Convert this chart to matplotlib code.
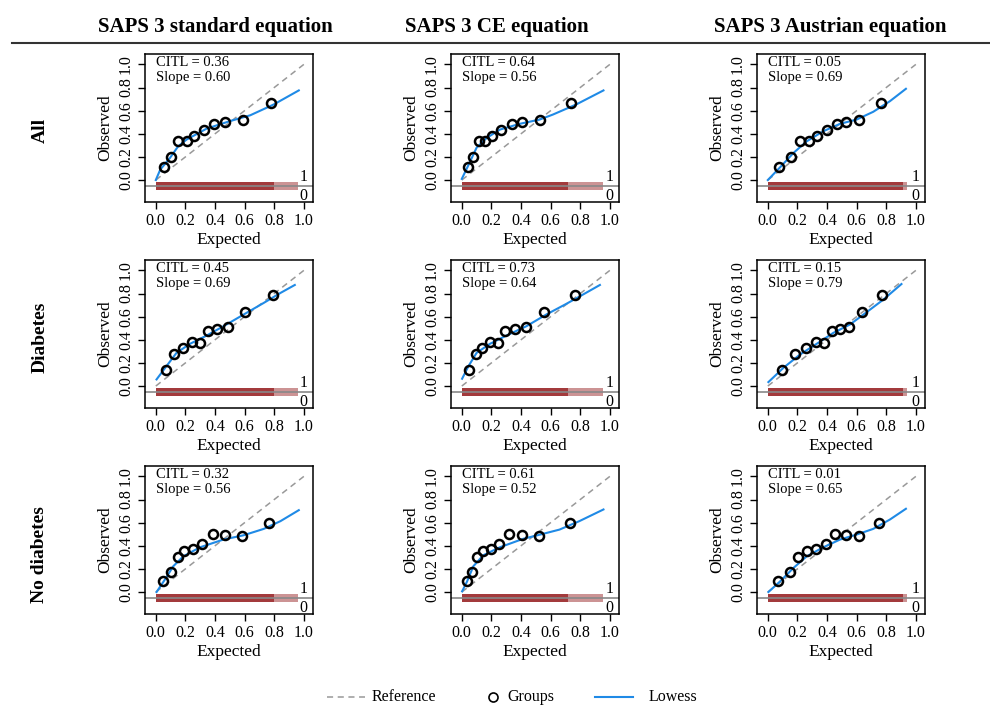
import matplotlib
matplotlib.use('Agg')
from matplotlib import pyplot as plt
from matplotlib.lines import Line2D

plt.rcParams['font.family'] = ['Liberation Serif', 'DejaVu Serif']

equations = ['SAPS 3 standard equation', 'SAPS 3 CE equation', 'SAPS 3 Austrian equation']
subgroups = ['All', 'Diabetes', 'No diabetes']

# observed proportion per risk group (same groups for every equation)
obs_all = [0.11, 0.197, 0.335, 0.338, 0.379, 0.436, 0.488, 0.50, 0.517, 0.668]
obs_diab = [0.138, 0.279, 0.33, 0.379, 0.374, 0.474, 0.494, 0.511, 0.638, 0.787]
obs_nodiab = [0.092, 0.173, 0.30, 0.353, 0.376, 0.416, 0.503, 0.491, 0.488, 0.598]

# expected (mean predicted) per group
exp_all_std = [0.054, 0.106, 0.152, 0.208, 0.258, 0.328, 0.396, 0.468, 0.586, 0.776]
exp_all_ce = [0.040, 0.078, 0.116, 0.157, 0.206, 0.268, 0.340, 0.409, 0.526, 0.740]
exp_all_aus = [0.076, 0.157, 0.218, 0.281, 0.335, 0.402, 0.467, 0.528, 0.618, 0.764]
exp_diab_std = [0.068, 0.124, 0.181, 0.242, 0.299, 0.351, 0.412, 0.486, 0.600, 0.790]
exp_diab_ce = [0.049, 0.094, 0.134, 0.190, 0.242, 0.295, 0.358, 0.432, 0.553, 0.765]
exp_diab_aus = [0.099, 0.184, 0.256, 0.324, 0.380, 0.431, 0.488, 0.548, 0.634, 0.773]
exp_nodiab_std = [0.050, 0.102, 0.147, 0.192, 0.249, 0.314, 0.385, 0.468, 0.581, 0.767]
exp_nodiab_ce = [0.034, 0.072, 0.105, 0.145, 0.195, 0.253, 0.320, 0.409, 0.521, 0.734]
exp_nodiab_aus = [0.072, 0.151, 0.207, 0.263, 0.326, 0.393, 0.454, 0.528, 0.616, 0.753]

# lowess curves
lx_all_std = [0.0, 0.03, 0.095, 0.15, 0.208, 0.344, 0.502, 0.638, 0.796, 0.966]
ly_all_std = [0.0, 0.09, 0.19, 0.29, 0.35, 0.445, 0.51, 0.56, 0.653, 0.775]
lx_all_ce = [0.0, 0.045, 0.10, 0.168, 0.257, 0.391, 0.526, 0.615, 0.772, 0.957]
ly_all_ce = [0.01, 0.13, 0.28, 0.364, 0.436, 0.486, 0.523, 0.566, 0.653, 0.775]
lx_all_aus = [0.0, 0.083, 0.173, 0.263, 0.375, 0.488, 0.60, 0.712, 0.825, 0.933]
ly_all_aus = [0.0, 0.11, 0.234, 0.335, 0.422, 0.486, 0.523, 0.59, 0.682, 0.789]
lx_diab_std = [0.005, 0.072, 0.14, 0.231, 0.344, 0.457, 0.593, 0.728, 0.842, 0.939]
ly_diab_std = [0.057, 0.172, 0.287, 0.365, 0.437, 0.517, 0.618, 0.718, 0.805, 0.874]
lx_diab_ce = [0.002, 0.045, 0.10, 0.19, 0.302, 0.436, 0.57, 0.705, 0.817, 0.933]
ly_diab_ce = [0.063, 0.172, 0.287, 0.365, 0.437, 0.517, 0.618, 0.71, 0.79, 0.874]
lx_diab_aus = [0.004, 0.106, 0.218, 0.33, 0.443, 0.555, 0.667, 0.78, 0.903]
ly_diab_aus = [0.034, 0.158, 0.273, 0.365, 0.46, 0.532, 0.638, 0.747, 0.882]
lx_nodiab_std = [0.005, 0.061, 0.118, 0.186, 0.299, 0.457, 0.593, 0.729, 0.842, 0.966]
ly_nodiab_std = [0.0, 0.107, 0.223, 0.309, 0.387, 0.454, 0.491, 0.546, 0.613, 0.708]
lx_nodiab_ce = [0.002, 0.034, 0.078, 0.145, 0.257, 0.414, 0.548, 0.66, 0.794, 0.957]
ly_nodiab_ce = [0.006, 0.087, 0.223, 0.318, 0.387, 0.46, 0.503, 0.54, 0.613, 0.714]
lx_nodiab_aus = [0.004, 0.083, 0.173, 0.263, 0.375, 0.488, 0.60, 0.712, 0.825, 0.933]
ly_nodiab_aus = [0.0, 0.092, 0.208, 0.309, 0.387, 0.454, 0.497, 0.546, 0.627, 0.72]

citl_all = [0.36, 0.64, 0.05]
citl_diab = [0.45, 0.73, 0.15]
citl_nodiab = [0.32, 0.61, 0.01]
slope_all = [0.60, 0.56, 0.69]
slope_diab = [0.69, 0.64, 0.79]
slope_nodiab = [0.56, 0.52, 0.65]

# range of individual predictions (dense part, then sparse tail)
rug_start = [0.0, 0.0, 0.0]
rug_dense_end = [0.80, 0.72, 0.915]
rug_end = [0.96, 0.955, 0.94]

observed = [obs_all, obs_diab, obs_nodiab]
expected = [[exp_all_std, exp_all_ce, exp_all_aus],
            [exp_diab_std, exp_diab_ce, exp_diab_aus],
            [exp_nodiab_std, exp_nodiab_ce, exp_nodiab_aus]]
lowess_x = [[lx_all_std, lx_all_ce, lx_all_aus],
            [lx_diab_std, lx_diab_ce, lx_diab_aus],
            [lx_nodiab_std, lx_nodiab_ce, lx_nodiab_aus]]
lowess_y = [[ly_all_std, ly_all_ce, ly_all_aus],
            [ly_diab_std, ly_diab_ce, ly_diab_aus],
            [ly_nodiab_std, ly_nodiab_ce, ly_nodiab_aus]]
citl = [citl_all, citl_diab, citl_nodiab]
slope = [slope_all, slope_diab, slope_nodiab]

W, H = 990, 720
fig = plt.figure(figsize=(W / 100, H / 100), dpi=100)

col_left = [145, 451, 757]
row_top = [54, 260, 466]
box_w, box_h = 168, 148

blue = '#1f8ae6'
rug_col = '#a33a3c'
tick_fs = 11.5

for r in range(3):
    for c in range(3):
        ax = fig.add_axes([col_left[c] / W, 1 - (row_top[r] + box_h) / H, box_w / W, box_h / H])
        ax.set_xlim(-0.073, 1.062)
        ax.set_ylim(-0.19, 1.09)

        # reference diagonal
        ax.plot([0, 1], [0, 1], color='#999999', linestyle=(0, (4, 3)), lw=1.1)

        # rug of predictions around the 0/1 line
        ax.axhline(-0.049, color='#888888', lw=1.2)
        ax.fill_between([rug_start[c], rug_dense_end[c]], -0.085, -0.015,
                        color=rug_col, lw=0)
        ax.fill_between([rug_dense_end[c], rug_end[c]], -0.085, -0.015,
                        color=rug_col, alpha=0.55, lw=0)
        ax.text(1.0, -0.045, '1', fontsize=tick_fs, ha='center', va='bottom')
        ax.text(1.0, -0.065, '0', fontsize=tick_fs, ha='center', va='top')

        ax.plot(lowess_x[r][c], lowess_y[r][c], color=blue, lw=1.5)
        ax.plot(expected[r][c], observed[r], linestyle='none', marker='o',
                markersize=6.5, markerfacecolor='none', markeredgecolor='black',
                markeredgewidth=1.8)

        ax.text(0.0, 1.07, f'CITL = {citl[r][c]:.2f}\nSlope = {slope[r][c]:.2f}',
                fontsize=10.5, ha='left', va='top', linespacing=1.2)

        ticks = [0.0, 0.2, 0.4, 0.6, 0.8, 1.0]
        ax.set_xticks(ticks)
        ax.set_yticks(ticks)
        ax.set_xticklabels([f'{t:.1f}' for t in ticks], fontsize=tick_fs)
        ax.set_yticklabels([f'{t:.1f}' for t in ticks], fontsize=tick_fs,
                           rotation=90, va='center')
        ax.tick_params(direction='out', length=5, width=1, pad=3)
        for s in ax.spines.values():
            s.set_linewidth(1.1)
        ax.set_xlabel('Expected', fontsize=12.5, labelpad=2)
        ax.set_ylabel('Observed', fontsize=12.5, labelpad=3)

# column titles and rule
title_x = [215, 497, 830]
for c in range(3):
    fig.text(title_x[c] / W, 1 - 27 / H, equations[c], fontsize=15,
             fontweight='bold', ha='center', va='center')
fig.add_artist(Line2D([12 / W, 1.0], [1 - 43 / H, 1 - 43 / H], color='#333333', lw=1.5))

row_y = [130, 337, 555]
for r in range(3):
    fig.text(40 / W, 1 - row_y[r] / H, subgroups[r], fontsize=14, fontweight='bold',
             rotation=90, ha='center', va='center')

# legend along the bottom
ly = 1 - 697 / H
fig.add_artist(Line2D([327 / W, 365 / W], [ly, ly], color='#999999', lw=1.1,
                      linestyle=(0, (4, 3))))
fig.text(372 / W, ly, 'Reference', fontsize=11.5, va='center')
fig.add_artist(Line2D([493 / W], [ly], marker='o', markersize=6.5, markerfacecolor='none',
                      markeredgecolor='black', markeredgewidth=1.2, linestyle='none'))
fig.text(507 / W, ly, 'Groups', fontsize=11.5, va='center')
fig.add_artist(Line2D([595 / W, 633 / W], [ly, ly], color=blue, lw=1.5))
fig.text(649 / W, ly, 'Lowess', fontsize=11.5, va='center')

fig.savefig('out.png', dpi=100)
